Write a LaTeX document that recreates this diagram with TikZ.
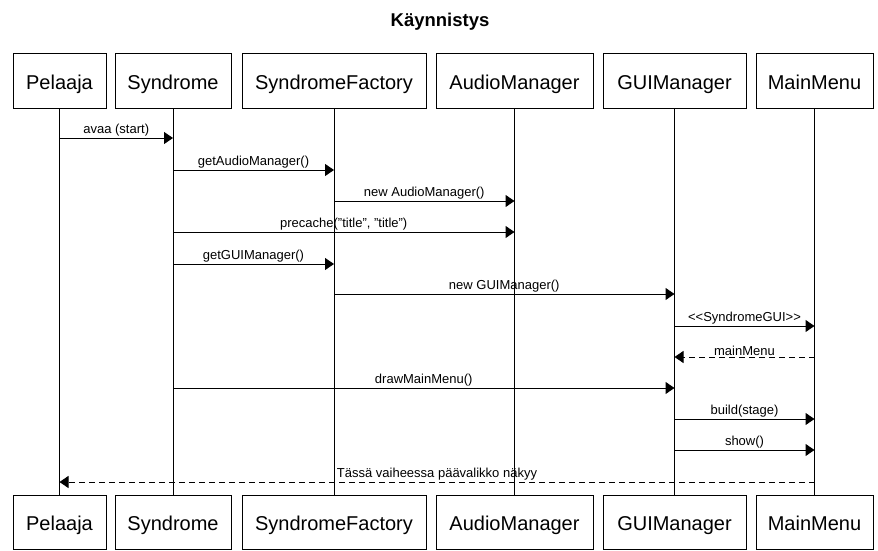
\documentclass[tikz,border=0pt]{standalone}
\usepackage{fontspec}
\setmainfont{Liberation Sans}
\usepackage{tikz}
\usetikzlibrary{arrows.meta}
\usetikzlibrary{calc}
\tikzset{
    % Solid triangle head, as the sequence tool draws it
    >={Triangle[length=9pt, width=12pt]},
%
    % One box per participant, repeated at the top and at the bottom
    party/.style={draw, rectangle, line width=1pt, inner sep=0,
        minimum height=54pt, text height=16pt, text depth=0pt,
        font=\fontsize{20}{24}\selectfont},
%
    % The vertical line below each participant
    lifeline/.style={line width=0.8pt},
%
    % A call, and the dashed answer coming back
    call/.style={->, line width=1pt},
    answer/.style={->, line width=1pt, dash pattern=on 6pt off 4pt},
%
    % Text sitting over a message
    msg/.style={above, inner sep=1pt, font=\fontsize{13}{15}\selectfont}}

\begin{document}
\begin{tikzpicture}[x=1pt, y=-1pt]

\useasboundingbox (0,0) rectangle (878,551);

\node (title) [font=\bfseries\fontsize{18.5}{22}\selectfont] at (440,22)
    {Käynnistys};

\node (pelaaja) [party, minimum width=93pt] at (59.5,81) {Pelaaja};
\node (syndrome) [party, minimum width=116pt] at (173,81) {Syndrome};
\node (factory) [party, minimum width=184pt] at (334,81) {SyndromeFactory};
\node (audio) [party, minimum width=157pt] at (514.5,81) {AudioManager};
\node (gui) [party, minimum width=143pt] at (674.5,81) {GUIManager};
\node (menu) [party, minimum width=117pt] at (814.5,81) {MainMenu};

\node (pelaaja2) [party, minimum width=93pt] at (59.5,522) {Pelaaja};
\node (syndrome2) [party, minimum width=116pt] at (173,522) {Syndrome};
\node (factory2) [party, minimum width=184pt] at (334,522) {SyndromeFactory};
\node (audio2) [party, minimum width=157pt] at (514.5,522) {AudioManager};
\node (gui2) [party, minimum width=143pt] at (674.5,522) {GUIManager};
\node (menu2) [party, minimum width=117pt] at (814.5,522) {MainMenu};

\draw [lifeline] (pelaaja) -- (pelaaja2);
\draw [lifeline] (syndrome) -- (syndrome2);
\draw [lifeline] (factory) -- (factory2);
\draw [lifeline] (audio) -- (audio2);
\draw [lifeline] (gui) -- (gui2);
\draw [lifeline] (menu) -- (menu2);

\draw [call] (pelaaja |- 0,138) -- node [msg] {avaa (start)}
    (syndrome |- 0,138);
\draw [call] (syndrome |- 0,170) -- node [msg] {getAudioManager()}
    (factory |- 0,170);
\draw [call] (factory |- 0,201) -- node [msg] {new AudioManager()}
    (audio |- 0,201);
\draw [call] (syndrome |- 0,232) -- node [msg] {precache("title", "title")}
    (audio |- 0,232);
\draw [call] (syndrome |- 0,264) -- node [msg] {getGUIManager()}
    (factory |- 0,264);
\draw [call] (factory |- 0,294) -- node [msg] {new GUIManager()}
    (gui |- 0,294);
\draw [call] (gui |- 0,326) -- node [msg] {<{}<SyndromeGUI>{}>}
    (menu |- 0,326);
\draw [answer] (menu |- 0,357) -- node [msg] {mainMenu}
    (gui |- 0,357);
\draw [call] (syndrome |- 0,388) -- node [msg] {drawMainMenu()}
    (gui |- 0,388);
\draw [call] (gui |- 0,419) -- node [msg] {build(stage)}
    (menu |- 0,419);
\draw [call] (gui |- 0,450) -- node [msg] {show()}
    (menu |- 0,450);
\draw [answer] (menu |- 0,482) -- node [msg] {Tässä vaiheessa päävalikko näkyy}
    (pelaaja |- 0,482);

\end{tikzpicture}
\end{document}
